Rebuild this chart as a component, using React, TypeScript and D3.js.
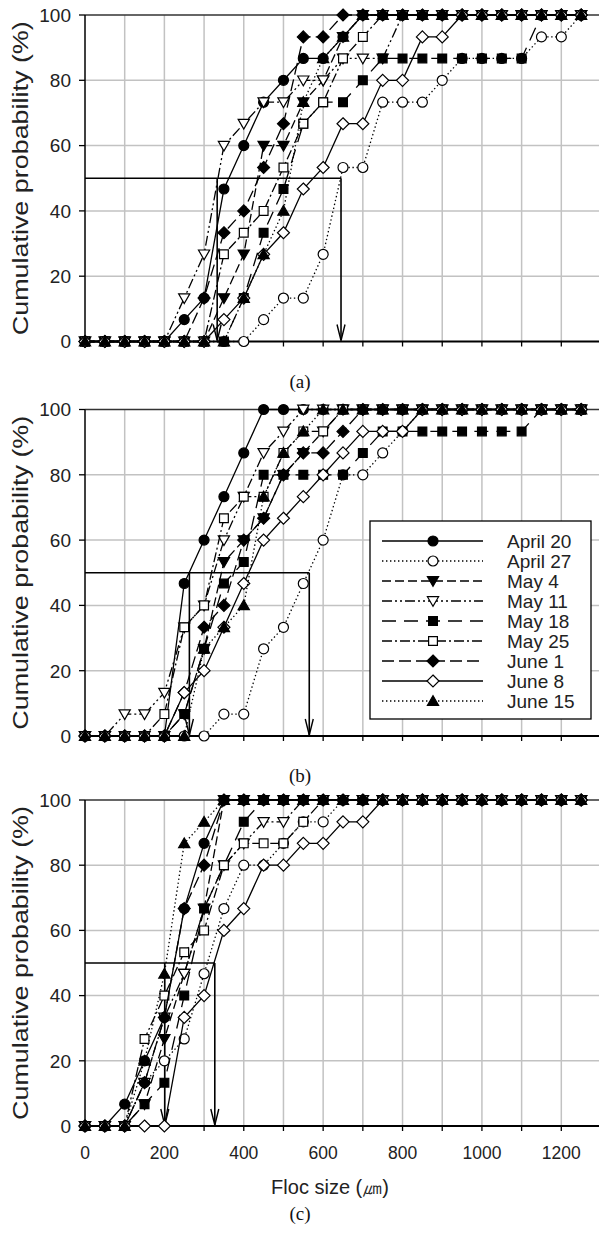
import { useEffect, useRef } from 'react'
import * as d3 from 'd3'

// floc size classes (µm), one point every 50 µm
const flocSizes = [0, 50, 100, 150, 200, 250, 300, 350, 400, 450, 500, 550, 600, 650, 700, 750, 800, 850, 900, 950, 1000, 1050, 1100, 1150, 1200, 1250]

const seriesNames = ['April 20', 'April 27', 'May 4', 'May 11', 'May 18', 'May 25', 'June 1', 'June 8', 'June 15']

// cumulative probability (%), one row per sample date (same order as seriesNames)
const panelA = [
  [0, 0, 0, 0, 0, 6.7, 13.3, 46.7, 60, 73.3, 80, 86.7, 86.7, 93.3, 100, 100, 100, 100, 100, 100, 100, 100, 100, 100, 100, 100],
  [0, 0, 0, 0, 0, 0, 0, 0, 0, 6.7, 13.3, 13.3, 26.7, 53.3, 53.3, 73.3, 73.3, 73.3, 80, 86.7, 86.7, 86.7, 86.7, 93.3, 93.3, 100],
  [0, 0, 0, 0, 0, 0, 0, 13.3, 26.7, 60, 60, 73.3, 80, 93.3, 100, 100, 100, 100, 100, 100, 100, 100, 100, 100, 100, 100],
  [0, 0, 0, 0, 0, 13.3, 26.7, 60, 66.7, 73.3, 73.3, 80, 80, 86.7, 86.7, 86.7, 100, 100, 100, 100, 100, 100, 100, 100, 100, 100],
  [0, 0, 0, 0, 0, 0, 0, 0, 13.3, 33.3, 46.7, 66.7, 73.3, 73.3, 80, 86.7, 86.7, 86.7, 86.7, 86.7, 86.7, 86.7, 86.7, 100, 100, 100],
  [0, 0, 0, 0, 0, 0, 0, 26.7, 33.3, 40, 53.3, 66.7, 73.3, 86.7, 93.3, 100, 100, 100, 100, 100, 100, 100, 100, 100, 100, 100],
  [0, 0, 0, 0, 0, 0, 13.3, 33.3, 40, 53.3, 66.7, 93.3, 93.3, 100, 100, 100, 100, 100, 100, 100, 100, 100, 100, 100, 100, 100],
  [0, 0, 0, 0, 0, 0, 0, 6.7, 13.3, 26.7, 33.3, 46.7, 53.3, 66.7, 66.7, 80, 80, 93.3, 93.3, 100, 100, 100, 100, 100, 100, 100],
  [0, 0, 0, 0, 0, 0, 0, 0, 13.3, 26.7, 40, 73.3, 86.7, 93.3, 100, 100, 100, 100, 100, 100, 100, 100, 100, 100, 100, 100],
]

const panelB = [
  [0, 0, 0, 0, 0, 46.7, 60, 73.3, 86.7, 100, 100, 100, 100, 100, 100, 100, 100, 100, 100, 100, 100, 100, 100, 100, 100, 100],
  [0, 0, 0, 0, 0, 0, 0, 6.7, 6.7, 26.7, 33.3, 46.7, 60, 80, 80, 86.7, 93.3, 100, 100, 100, 100, 100, 100, 100, 100, 100],
  [0, 0, 0, 0, 0, 6.7, 26.7, 53.3, 60, 66.7, 80, 86.7, 93.3, 100, 100, 100, 100, 100, 100, 100, 100, 100, 100, 100, 100, 100],
  [0, 0, 6.7, 6.7, 13.3, 33.3, 40, 60, 73.3, 86.7, 93.3, 100, 100, 100, 100, 100, 100, 100, 100, 100, 100, 100, 100, 100, 100, 100],
  [0, 0, 0, 0, 0, 6.7, 26.7, 46.7, 53.3, 80, 80, 80, 80, 80, 86.7, 93.3, 93.3, 93.3, 93.3, 93.3, 93.3, 93.3, 93.3, 100, 100, 100],
  [0, 0, 0, 0, 6.7, 33.3, 40, 66.7, 73.3, 73.3, 86.7, 93.3, 93.3, 100, 100, 100, 100, 100, 100, 100, 100, 100, 100, 100, 100, 100],
  [0, 0, 0, 0, 0, 13.3, 33.3, 40, 60, 66.7, 80, 86.7, 86.7, 93.3, 100, 100, 100, 100, 100, 100, 100, 100, 100, 100, 100, 100],
  [0, 0, 0, 0, 0, 13.3, 20, 33.3, 46.7, 60, 66.7, 73.3, 80, 86.7, 93.3, 93.3, 93.3, 100, 100, 100, 100, 100, 100, 100, 100, 100],
  [0, 0, 0, 0, 0, 0, 26.7, 33.3, 40, 73.3, 86.7, 93.3, 100, 100, 100, 100, 100, 100, 100, 100, 100, 100, 100, 100, 100, 100],
]

const panelC = [
  [0, 0, 6.7, 20, 33.3, 66.7, 86.7, 100, 100, 100, 100, 100, 100, 100, 100, 100, 100, 100, 100, 100, 100, 100, 100, 100, 100, 100],
  [0, 0, 0, 13.3, 20, 26.7, 46.7, 66.7, 80, 80, 86.7, 93.3, 93.3, 100, 100, 100, 100, 100, 100, 100, 100, 100, 100, 100, 100, 100],
  [0, 0, 0, 6.7, 26.7, 46.7, 66.7, 100, 100, 100, 100, 100, 100, 100, 100, 100, 100, 100, 100, 100, 100, 100, 100, 100, 100, 100],
  [0, 0, 0, 13.3, 33.3, 46.7, 66.7, 80, 86.7, 93.3, 93.3, 100, 100, 100, 100, 100, 100, 100, 100, 100, 100, 100, 100, 100, 100, 100],
  [0, 0, 0, 6.7, 13.3, 40, 66.7, 80, 93.3, 100, 100, 100, 100, 100, 100, 100, 100, 100, 100, 100, 100, 100, 100, 100, 100, 100],
  [0, 0, 0, 26.7, 40, 53.3, 60, 80, 86.7, 86.7, 86.7, 93.3, 100, 100, 100, 100, 100, 100, 100, 100, 100, 100, 100, 100, 100, 100],
  [0, 0, 0, 13.3, 33.3, 66.7, 80, 100, 100, 100, 100, 100, 100, 100, 100, 100, 100, 100, 100, 100, 100, 100, 100, 100, 100, 100],
  [0, 0, 0, 0, 0, 33.3, 40, 60, 66.7, 80, 80, 86.7, 86.7, 93.3, 93.3, 100, 100, 100, 100, 100, 100, 100, 100, 100, 100, 100],
  [0, 0, 0, 20, 46.7, 86.7, 93.3, 100, 100, 100, 100, 100, 100, 100, 100, 100, 100, 100, 100, 100, 100, 100, 100, 100, 100, 100],
]

// smallest and largest median floc size (µm) marked by the arrows
const mediansA = [333, 645]
const mediansB = [263, 565]
const mediansC = [201, 327]

const xTickLabels = [0, 200, 400, 600, 800, 1000, 1200]
const yTickLabels = [0, 20, 40, 60, 80, 100]
const panelLabels = ['(a)', '(b)', '(c)']

// line dash + marker for each series
const seriesStyles = [
  { dash: null, shape: 'circle', filled: true },
  { dash: '1.4,2.6', shape: 'circle', filled: false },
  { dash: '9,4', shape: 'triDown', filled: true },
  { dash: '10,3,2,3,2,3', shape: 'triDown', filled: false },
  { dash: '14,8', shape: 'square', filled: true },
  { dash: '10,3,2,3', shape: 'square', filled: false },
  { dash: '12,5', shape: 'diamond', filled: true },
  { dash: null, shape: 'diamond', filled: false },
  { dash: '1.4,2.6', shape: 'triUp', filled: true },
]

const markerPath = (shape: string) => {
  switch (shape) {
    case 'circle': return 'M5,0A5,5 0 1,1 -5,0A5,5 0 1,1 5,0Z'
    case 'square': return 'M-4.4,-4.4H4.4V4.4H-4.4Z'
    case 'diamond': return 'M0,-6L6,0L0,6L-6,0Z'
    case 'triDown': return 'M-5.6,-4.3L5.6,-4.3L0,5.4Z'
    default: return 'M-5.6,4.3L5.6,4.3L0,-5.4Z'
  }
}

const FONT = 'Liberation Sans, Arial, sans-serif'

export default function App() {
  const svgRef = useRef<SVGSVGElement>(null)

  useEffect(() => {
    if (!svgRef.current) return
    const svg = d3.select(svgRef.current)
    svg.selectAll('*').remove()

    const x = d3.scaleLinear().domain([0, 1300]).range([85, 601])

    const panels = [
      { data: panelA, medians: mediansA, top: 15, bottom: 341.5, label: 381 },
      { data: panelB, medians: mediansB, top: 409.5, bottom: 736, label: 775 },
      { data: panelC, medians: mediansC, top: 800, bottom: 1126, label: 1213 },
    ]

    panels.forEach((p, pi) => {
      const y = d3.scaleLinear().domain([0, 100]).range([p.bottom, p.top])
      const g = svg.append('g')

      // grid
      g.selectAll('.vgrid')
        .data(x.ticks(13).filter(d => d > 0))
        .join('line')
        .attr('x1', d => x(d)).attr('x2', d => x(d))
        .attr('y1', y(100)).attr('y2', y(0))
        .attr('stroke', '#c2c2c2').attr('stroke-width', 1.5)

      g.selectAll('.hgrid')
        .data(yTickLabels.filter(d => d > 0 && d < 100))
        .join('line')
        .attr('x1', x(0)).attr('x2', 599)
        .attr('y1', d => y(d)).attr('y2', d => y(d))
        .attr('stroke', '#c2c2c2').attr('stroke-width', 1.5)

      g.append('line')
        .attr('x1', x(0)).attr('x2', 599)
        .attr('y1', y(100)).attr('y2', y(100))
        .attr('stroke', '#333').attr('stroke-width', 1.6)

      // axes
      g.append('line')
        .attr('x1', x(0)).attr('x2', x(0))
        .attr('y1', y(100)).attr('y2', y(0))
        .attr('stroke', '#000').attr('stroke-width', 1.5)
      g.append('line')
        .attr('x1', x(0)).attr('x2', 599)
        .attr('y1', y(0)).attr('y2', y(0))
        .attr('stroke', '#000').attr('stroke-width', 1.8)

      g.selectAll('.ytick')
        .data(yTickLabels)
        .join('line')
        .attr('x1', x(0) - 6).attr('x2', x(0))
        .attr('y1', d => y(d)).attr('y2', d => y(d))
        .attr('stroke', '#000').attr('stroke-width', 1.3)

      g.selectAll('.xtick')
        .data(x.ticks(13))
        .join('line')
        .attr('x1', d => x(d)).attr('x2', d => x(d))
        .attr('y1', y(0)).attr('y2', y(0) + 5)
        .attr('stroke', '#000').attr('stroke-width', 1.3)

      g.selectAll('.ylabel')
        .data(yTickLabels)
        .join('text')
        .attr('x', 71)
        .attr('y', d => y(d))
        .attr('dy', '0.36em')
        .attr('text-anchor', 'end')
        .attr('font-family', FONT)
        .attr('font-size', 19)
        .attr('fill', '#222')
        .text(d => d)

      const cy = (p.top + p.bottom) / 2
      g.append('text')
        .attr('transform', `translate(28,${cy}) rotate(-90)`)
        .attr('text-anchor', 'middle')
        .attr('font-family', FONT)
        .attr('font-size', 22)
        .attr('textLength', 314)
        .attr('lengthAdjust', 'spacingAndGlyphs')
        .attr('fill', '#222')
        .text('Cumulative probability (%)')

      // median guide lines with arrows
      const hi = p.medians[1]
      g.append('line')
        .attr('x1', x(0)).attr('x2', x(hi))
        .attr('y1', y(50)).attr('y2', y(50))
        .attr('stroke', '#000').attr('stroke-width', 1.5)
      p.medians.forEach(m => {
        g.append('line')
          .attr('x1', x(m)).attr('x2', x(m))
          .attr('y1', y(50)).attr('y2', y(0) - 1)
          .attr('stroke', '#000').attr('stroke-width', 1.6)
        g.append('path')
          .attr('d', `M${x(m) - 4},${y(0) - 17}L${x(m)},${y(0) - 1}L${x(m) + 4},${y(0) - 17}`)
          .attr('fill', 'none')
          .attr('stroke', '#000').attr('stroke-width', 1.4)
      })

      // series
      const line = d3.line<number>()
        .x((_, i) => x(flocSizes[i]))
        .y(d => y(d))

      p.data.forEach((values, si) => {
        const st = seriesStyles[si]
        g.append('path')
          .datum(values)
          .attr('d', line)
          .attr('fill', 'none')
          .attr('stroke', '#000')
          .attr('stroke-width', 1.3)
          .attr('stroke-dasharray', st.dash)
        g.selectAll(`.m${si}`)
          .data(values)
          .join('path')
          .attr('transform', (d, i) => `translate(${x(flocSizes[i])},${y(d)})`)
          .attr('d', markerPath(st.shape))
          .attr('fill', st.filled ? '#000' : '#fff')
          .attr('stroke', '#000')
          .attr('stroke-width', 1.2)
      })

      if (pi === 2) {
        g.selectAll('.xlabel')
          .data(xTickLabels)
          .join('text')
          .attr('x', d => x(d))
          .attr('y', y(0) + 33)
          .attr('text-anchor', 'middle')
          .attr('font-family', FONT)
          .attr('font-size', 17.5)
          .attr('fill', '#222')
          .text(d => d)
        g.append('text')
          .attr('x', 330)
          .attr('y', y(0) + 68)
          .attr('text-anchor', 'middle')
          .attr('font-family', FONT)
          .attr('font-size', 20)
          .attr('fill', '#222')
          .text('Floc size (㎛)')
      }

      g.append('text')
        .attr('x', 300)
        .attr('y', p.label)
        .attr('dy', '0.35em')
        .attr('text-anchor', 'middle')
        .attr('font-family', 'Liberation Serif, Times New Roman, serif')
        .attr('font-size', 19)
        .attr('fill', '#111')
        .text(panelLabels[pi])

      // legend sits in panel (b)
      if (pi === 1) {
        const lg = g.append('g')
        lg.append('rect')
          .attr('x', 370).attr('y', 521)
          .attr('width', 221).attr('height', 198)
          .attr('fill', '#fff')
          .attr('stroke', '#000').attr('stroke-width', 1.3)
        seriesNames.forEach((name, i) => {
          const st = seriesStyles[i]
          const ry = 541 + i * 20
          lg.append('line')
            .attr('x1', 382).attr('x2', 483)
            .attr('y1', ry).attr('y2', ry)
            .attr('stroke', '#000').attr('stroke-width', 1.3)
            .attr('stroke-dasharray', st.dash)
          lg.append('path')
            .attr('transform', `translate(433,${ry})`)
            .attr('d', markerPath(st.shape))
            .attr('fill', st.filled ? '#000' : '#fff')
            .attr('stroke', '#000').attr('stroke-width', 1.2)
          lg.append('text')
            .attr('x', 507).attr('y', ry)
            .attr('dy', '0.36em')
            .attr('font-family', FONT)
            .attr('font-size', 19)
            .attr('fill', '#222')
            .text(name)
        })
      }
    })
  }, [])

  return (
    <svg
      ref={svgRef}
      width={599}
      height={1236}
      style={{ position: 'absolute', left: 0, top: 0, background: '#fff' }}
    />
  )
}
